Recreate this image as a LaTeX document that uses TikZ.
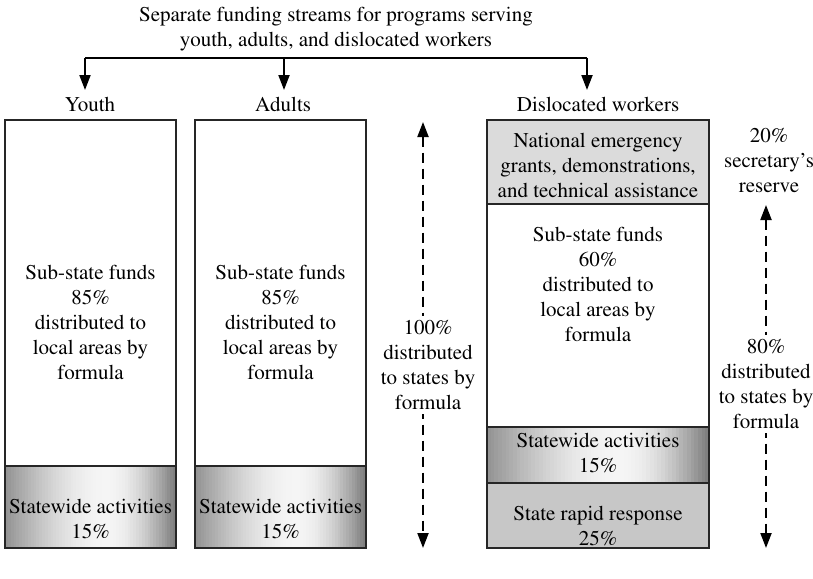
\documentclass[tikz,border=0pt]{standalone}
\usepackage[T1]{fontenc}
\usepackage{mathptmx}
\usetikzlibrary{arrows.meta,positioning,calc}

% horizontal grey band, dark at the sides and light just right of the middle
\newcommand{\greyband}[4]{%
  \foreach \i in {0,...,59}{%
    \pgfmathsetmacro{\t}{\i/59}%
    \pgfmathsetmacro{\sh}{\t<0.6 ? 42-38*sin(90*\t/0.6) : 4+46*(1-cos(90*(\t-0.6)/0.4))}%
    \fill[black!\sh] ({#1+(#3-#1)*\i/60},#2) rectangle ({#1+(#3-#1)*(\i+1)/60+0.6},#4);
  }}

\begin{document}
\begin{tikzpicture}[x=1pt,y=-1pt,line width=2pt,every node/.style={font=\fontsize{21}{25}\selectfont,align=center,inner sep=0pt}]
\tikzstyle{part}=[draw=black!85,line width=2.3pt]
\tikzstyle{stream}=[-{Triangle[length=15pt,width=11pt]}]
\tikzstyle{share}=[{Triangle[length=15pt,width=11pt]}-{Triangle[length=15pt,width=11pt]},dash pattern=on 10pt off 6pt]
\tikzstyle{sharelbl}=[fill=white,inner sep=4pt]
\useasboundingbox (0,0) rectangle (813,578);
% boxes
\greyband{5}{466}{176}{548}
\greyband{195}{466}{366}{548}
\greyband{487}{427}{709}{483}
\fill[black!14] (487,120) rectangle (709,204);
\fill[black!22] (487,483) rectangle (709,548);
\draw[part] (5,120) rectangle (176,466) rectangle (5,548);
\draw[part] (195,120) rectangle (366,466) rectangle (195,548);
\draw[part] (487,120) rectangle (709,204) (487,427) rectangle (709,483) (487,120) rectangle (709,548);
% title and streams
\node (title) at (336,29) {Separate funding streams for programs serving\\youth, adults, and dislocated workers};
\coordinate (busL) at (85,58);
\coordinate (busM) at (284,58);
\coordinate (busR) at (587,58);
\coordinate (ytip) at (85,90);
\coordinate (atip) at (284,90);
\coordinate (dtip) at (587,90);
\draw (busL) -- (busR);
\draw[stream] (busL) -- (ytip);
\draw[stream] (busM) -- (atip);
\draw[stream] (busR) -- (dtip);
\node (ylbl) at (90,104) {Youth};
\node (albl) at (283,104) {Adults};
\node (dlbl) at (598,104) {Dislocated workers};
% youth
\node (ysubtxt) at (90.5,322) {Sub-state funds\\85\%\\distributed to\\local areas by\\formula};
\node (yswtxt) at (90.5,519) {Statewide activities\\15\%};
% adults
\node (asubtxt) at (280.5,322) {Sub-state funds\\85\%\\distributed to\\local areas by\\formula};
\node (aswtxt) at (280.5,519) {Statewide activities\\15\%};
% dislocated workers
\node (dnattxt) at (598,165) {National emergency\\grants, demonstrations,\\and technical assistance};
\node (dsubtxt) at (598,284) {Sub-state funds\\60\%\\distributed to\\local areas by\\formula};
\node (dswtxt) at (598,453) {Statewide activities\\15\%};
\node (drrtxt) at (598,526) {State rapid response\\25\%};
% shares to states
\coordinate (s100top) at (423,122);
\coordinate (s100bot) at (423,548);
\draw[share] (s100top) -- (s100bot);
\node [sharelbl] (s100) at (428,365) {100\%\\distributed\\to states by\\formula};
\coordinate (s80top) at (766,205);
\coordinate (s80bot) at (766,548);
\draw[share] (s80top) -- (s80bot);
\node [sharelbl] (s80) at (766,384) {80\%\\distributed\\to states by\\formula};
\node (s20) at (769,160) {20\%\\secretary's\\reserve};
\end{tikzpicture}
\end{document}
